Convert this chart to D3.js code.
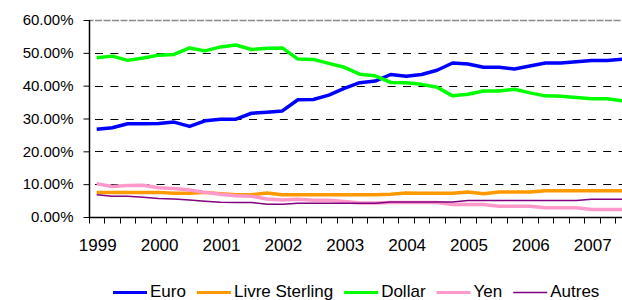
<!DOCTYPE html>
<html>
<head>
<meta charset="utf-8">
<script src="https://cdn.jsdelivr.net/npm/d3@7"></script>
<style>
	body { margin: 0; background: #fff; }
	svg { display: block; font-family: "Liberation Sans", Arial, sans-serif; }
</style>
</head>
<body>
<svg id="DeviseChart"></svg>
<script>
// quarterly shares, 1999 Q1 -> 2007 Q3
var years = ["1999", "2000", "2001", "2002", "2003", "2004", "2005", "2006", "2007"];
var quarters = ["T1", "T2", "T3", "T4"];
var categories = years.flatMap(y => quarters.map(q => y + " " + q)).slice(0, 35);

var euro = [26.7, 27.2, 28.4, 28.4, 28.5, 28.9, 27.6, 29.3, 29.8, 29.8, 31.6, 31.9, 32.3, 35.7, 35.8,
	37.1, 39.2, 40.9, 41.4, 43.4, 42.9, 43.4, 44.7, 46.9, 46.6, 45.6, 45.6, 45.1, 46.0, 46.9,
	46.9, 47.3, 47.7, 47.7, 48.1];
var livre = [7.5, 7.5, 7.5, 7.5, 7.5, 7.2, 7.2, 7.5, 7.1, 6.8, 6.8, 7.3, 6.8, 6.8, 6.8,
	6.8, 6.8, 6.8, 6.8, 6.9, 7.3, 7.2, 7.2, 7.2, 7.6, 7.1, 7.6, 7.6, 7.6, 8.0,
	8.0, 8.0, 8.0, 8.0, 8.0];
var dollar = [48.5, 49.0, 47.7, 48.4, 49.3, 49.5, 51.5, 50.6, 51.8, 52.4, 51.0, 51.4, 51.5, 48.1, 48.0,
	46.8, 45.6, 43.5, 43.0, 41.0, 40.9, 40.4, 39.5, 36.9, 37.4, 38.4, 38.4, 38.9, 37.8, 36.9,
	36.8, 36.4, 36.0, 36.0, 35.4];
var yen = [10.1, 9.3, 9.6, 9.7, 8.9, 8.7, 8.2, 7.5, 6.9, 6.5, 6.3, 5.5, 5.2, 5.4, 5.1,
	5.1, 4.7, 4.3, 4.3, 4.4, 4.4, 4.4, 4.4, 3.8, 3.8, 3.8, 3.3, 3.3, 3.3, 2.8,
	2.8, 2.8, 2.3, 2.3, 2.3];
var autres = [6.8, 6.3, 6.3, 6.0, 5.6, 5.5, 5.2, 4.8, 4.5, 4.4, 4.4, 3.9, 3.9, 4.2, 4.2,
	4.2, 4.2, 4.2, 4.2, 4.6, 4.6, 4.6, 4.6, 4.6, 5.0, 5.0, 5.0, 5.0, 5.0, 5.0,
	5.0, 5.0, 5.4, 5.4, 5.4];

var yTicks = [0, 10, 20, 30, 40, 50, 60];

var seriesNames = ["Euro", "Livre Sterling", "Dollar", "Yen", "Autres"];
var seriesValues = [euro, livre, dollar, yen, autres];

var svgWidth = 622, svgHeight = 300;
var plotLeft = 89, plotTop = 20, plotBottom = 217;
var step = 15.47;

var color = d3.scaleOrdinal()
	.domain(seriesNames)
	.range(["#0000ff", "#ff9900", "#00ff00", "#ff99cc", "#800080"]);
var lineWidth = {"Euro": 3.5, "Livre Sterling": 3.5, "Dollar": 3.5, "Yen": 3.5, "Autres": 1.5};

var svg = d3.select("#DeviseChart")
	.attr("width", svgWidth)
	.attr("height", svgHeight);

var x = d3.scaleBand()
	.domain(categories)
	.range([plotLeft, plotLeft + categories.length * step]);

var y = d3.scaleLinear()
	.domain([0, 60])
	.range([plotBottom, plotTop]);

// gridlines
svg.append("g")
	.selectAll("line")
	.data(yTicks.filter(d => d > 0))
	.enter().append("line")
		.attr("x1", plotLeft)
		.attr("x2", svgWidth)
		.attr("y1", d => Math.round(y(d)) + 0.5)
		.attr("y2", d => Math.round(y(d)) + 0.5)
		.attr("stroke", d => d == 60 ? "#8a8a8a" : "#000")
		.attr("stroke-width", d => d == 60 ? 1.5 : 1)
		.attr("stroke-dasharray", d => d == 60 ? "7,1.5" : "8,7.4")
		.attr("stroke-dashoffset", -6);

// y axis
var yAxis = svg.append("g")
	.attr("transform", "translate(" + (plotLeft + 0.5) + ",0)")
	.call(d3.axisLeft(y)
		.tickValues(yTicks)
		.tickSize(6)
		.tickPadding(10)
		.tickFormat(d => d.toFixed(2) + "%"));
yAxis.select(".domain").attr("stroke", "#000").attr("stroke-width", 1.5).attr("d", "M0," + plotTop + "V" + plotBottom);
yAxis.selectAll("text")
	.attr("font-size", 15)
	.attr("font-family", "Liberation Sans, Arial, sans-serif")
	.attr("fill", "#000");

// x axis: tick marks between quarters, year label under each first quarter
var xAxis = svg.append("g")
	.attr("transform", "translate(0," + (plotBottom + 0.5) + ")");
xAxis.append("line")
	.attr("x1", plotLeft)
	.attr("x2", svgWidth)
	.attr("stroke", "#000")
	.attr("stroke-width", 1.5);
xAxis.selectAll(".qtick")
	.data(categories)
	.enter().append("line")
		.attr("class", "qtick")
		.attr("x1", d => Math.round(x(d)) + 0.5)
		.attr("x2", d => Math.round(x(d)) + 0.5)
		.attr("y1", 0)
		.attr("y2", 6)
		.attr("stroke", "#000");
xAxis.selectAll(".yearLabel")
	.data(categories.filter((d, i) => i % 4 == 0))
	.enter().append("text")
		.attr("class", "yearLabel")
		.attr("x", d => x(d) + x.bandwidth() / 2 + 1)
		.attr("y", 33)
		.attr("text-anchor", "middle")
		.attr("font-size", 17)
		.text(d => d.split(" ")[0]);

// series lines
var line = d3.line()
	.x((d, i) => x(categories[i]) + x.bandwidth() / 2)
	.y(d => y(d));

svg.append("g")
	.selectAll("path")
	.data(seriesNames)
	.enter().append("path")
		.attr("fill", "none")
		.attr("stroke", d => color(d))
		.attr("stroke-width", d => lineWidth[d])
		.attr("stroke-linejoin", "round")
		.attr("d", (d, i) => line(seriesValues[i]));

// legend along the bottom
var legend = svg.append("g")
	.attr("font-size", 17);
var lx = 113;
seriesNames.forEach(function (name) {
	legend.append("line")
		.attr("x1", lx)
		.attr("x2", lx + 34)
		.attr("y1", 292.5)
		.attr("y2", 292.5)
		.attr("stroke", color(name))
		.attr("stroke-width", name == "Autres" ? 1.5 : 3);
	var t = legend.append("text")
		.attr("x", lx + 37)
		.attr("y", 297)
		.text(name);
	lx += 37 + t.node().getComputedTextLength() + 11;
});
</script>
</body>
</html>
